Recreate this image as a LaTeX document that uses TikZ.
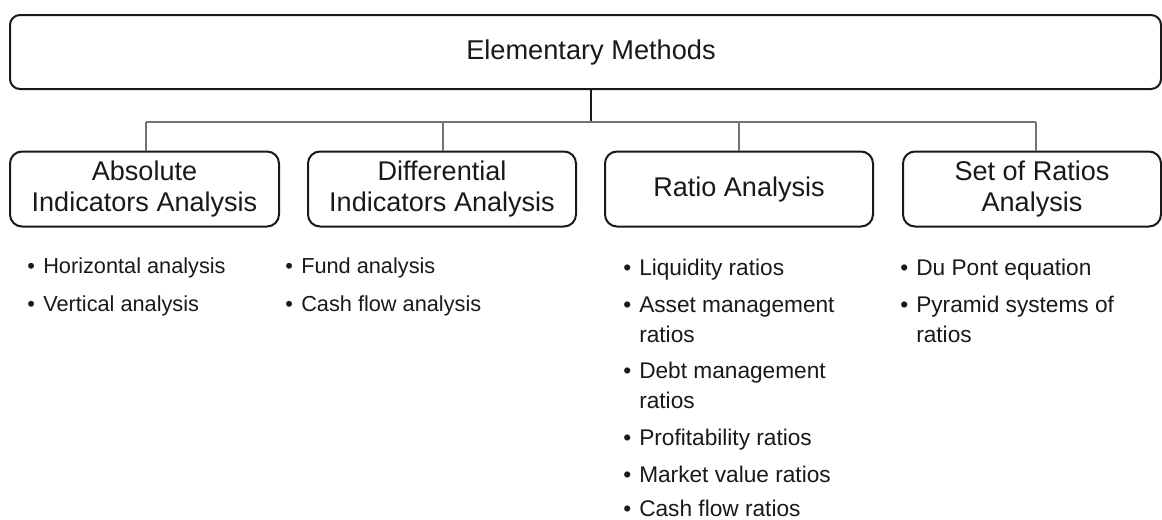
\documentclass[tikz,border=0pt]{standalone}
\usepackage{fontspec}
\setmainfont{Liberation Sans}
\newcommand{\bul}{\makebox[12pt][l]{\textbullet}}
\newcommand{\cont}{\hspace*{12pt}}
% one bullet item, possibly wrapped; its reference point is the first baseline
\newcommand{\bitem}[1]{\begin{tabular}[t]{@{}l@{}}#1\end{tabular}}
\begin{document}
\begin{tikzpicture}[x=0.75pt,y=-0.75pt,
  ink/.style={color=black!90},
  topbox/.style={draw=black!90, line width=1.5pt, rounded corners=7.5pt,
    minimum width=863.25pt, minimum height=55.5pt, inner sep=0pt},
  catbox/.style={draw=black!90, line width=1.5pt, rounded corners=9pt,
    minimum height=56.25pt, inner sep=0pt, align=center,
    font=\fontsize{20.3pt}{23.2pt}\selectfont, text=black!90},
  trunk/.style={draw=black!90, line width=1.3pt},
  branch/.style={draw=black!55, line width=1pt},
  itemtext/.style={anchor=base west, inner sep=0pt,
    font=\fontsize{16.3pt}{22.5pt}\selectfont, text=black!90},
  wideitem/.style={itemtext, font=\fontsize{17pt}{22.5pt}\selectfont}
]
\useasboundingbox (0,0) rectangle (1162,519);

% root box and its title
\node[topbox] (root) at (585.5,52) {};
\node[ink, font=\fontsize{20.4pt}{23pt}\selectfont, inner sep=0pt] (title) at (591,52) {Elementary Methods};

% category boxes
\node[catbox, minimum width=201.75pt] (b1) at (144.5,189) {Absolute\\Indicators Analysis};
\node[catbox, minimum width=201pt]    (b2) at (442,189)   {Differential\\Indicators Analysis};
\node[catbox, minimum width=201pt]    (b3) at (739,189)   {Ratio Analysis};
\node[catbox, minimum width=193.5pt]  (b4) at (1032,189)  {Set of Ratios\\Analysis};

% connectors: trunk, bus and branches
\coordinate (hub) at (591,122);
\coordinate (c1) at (146,122);
\coordinate (c2) at (443,122);
\coordinate (c3) at (739,122);
\coordinate (c4) at (1036,122);
\draw[trunk] (root.south -| hub) -- (hub);
\draw[branch] (c1) -- (c4);
\draw[branch] (c1) -- (c1 |- b1.north);
\draw[branch] (c2) -- (c2 |- b2.north);
\draw[branch] (c3) -- (c3 |- b3.north);
\draw[branch] (c4) -- (c4 |- b4.north);

% bullet lists
\node[itemtext] (h1) at (27,273) {\bitem{\bul Horizontal analysis}};
\node[itemtext] (h2) at (27,311) {\bitem{\bul Vertical analysis}};

\node[itemtext] (d1) at (285,273) {\bitem{\bul Fund analysis}};
\node[itemtext] (d2) at (285,311) {\bitem{\bul Cash flow analysis}};

\node[wideitem] (r1) at (623,275) {\bitem{\bul Liquidity ratios}};
\node[wideitem] (r2) at (623,312) {\bitem{\bul Asset management\\\cont ratios}};
\node[wideitem] (r3) at (623,378) {\bitem{\bul Debt management\\\cont ratios}};
\node[wideitem] (r4) at (623,445) {\bitem{\bul Profitability ratios}};
\node[wideitem] (r5) at (623,482) {\bitem{\bul Market value ratios}};
\node[wideitem] (r6) at (623,516) {\bitem{\bul Cash flow ratios}};

\node[wideitem] (s1) at (900,275) {\bitem{\bul Du Pont equation}};
\node[wideitem] (s2) at (900,312) {\bitem{\bul Pyramid systems of\\\cont ratios}};
\end{tikzpicture}
\end{document}
